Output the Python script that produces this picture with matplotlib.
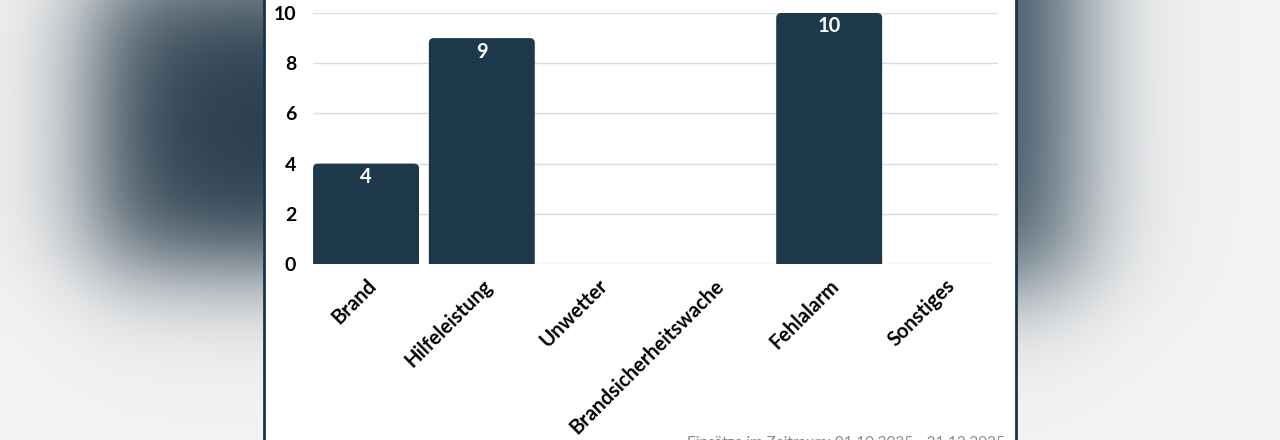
import numpy as np
import matplotlib
matplotlib.use("Agg")
import matplotlib.pyplot as plt
import matplotlib.patches as mpatches
from matplotlib.path import Path
from matplotlib.transforms import ScaledTranslation

plt.rcParams['font.family'] = ['Lato', 'DejaVu Sans']

categories = ["Brand", "Hilfeleistung", "Unwetter", "Brandsicherheitswache", "Fehlalarm", "Sonstiges"]
counts = [4, 9, 0, 0, 10, 0]
yticks = [0, 2, 4, 6, 8, 10]
footer = "Einsätze im Zeitraum: 01.10.2025 - 31.12.2025"

bar_color = "#1e384b"
W, H = 1280, 440

fig = plt.figure(figsize=(W / 100, H / 100), dpi=100)


def sig(v):
    return 1.0 / (1.0 + np.exp(-v))


# blurred backdrop
bg = fig.add_axes([0, 0, 1, 1])
bg.set_axis_off()
xx, yy = np.meshgrid(np.arange(W), np.arange(H))
base = np.array([243, 243, 243], dtype=float)
dark_l = np.array([40, 60, 76], dtype=float)
dark_r = np.array([58, 80, 96], dtype=float)
m_left = sig((xx - 95) / 32) * sig((265 - yy) / 30) * sig((yy + 30) / 35) * (xx < 640)
m_right = sig((1075 - xx) / 32) * sig((285 - yy) / 30) * (xx > 640)
img = base[None, None, :] * np.ones((H, W, 1))
img = img * (1 - m_left[..., None]) + dark_l * m_left[..., None]
img = img * (1 - m_right[..., None]) + dark_r * m_right[..., None]
bg.imshow(img.astype(np.uint8), extent=(0, W, H, 0), aspect="auto", interpolation="bilinear")
bg.set_xlim(0, W)
bg.set_ylim(H, 0)
bg.add_patch(mpatches.Rectangle((264, 0), 752, H, facecolor="white", edgecolor="none"))
bg.plot([264, 264], [0, H], color="#1c3444", lw=2)
bg.plot([1016, 1016], [0, H], color="#1c3444", lw=2)

ax = fig.add_axes([313 / W, 1 - 264 / H, (998 - 313) / W, (264 - 13) / H])
ax.patch.set_alpha(0)
x = np.arange(len(categories))
bw = 0.915
bars = ax.bar(x, counts, width=bw, color="none", edgecolor="none")

ax.set_xlim(-0.458, len(categories) - 1 + 0.458)
ax.set_ylim(0, 10)

# rounded top corners
px_x = (998 - 313) / (ax.get_xlim()[1] - ax.get_xlim()[0])
px_y = (264 - 13) / 10
r = 5
rx, ry = r / px_x, r / px_y
for b in bars:
    h = b.get_height()
    if h <= 0:
        continue
    x0 = b.get_x()
    x1 = x0 + b.get_width()
    verts = [(x0, 0), (x0, h - ry), (x0, h), (x0 + rx, h), (x1 - rx, h), (x1, h), (x1, h - ry), (x1, 0), (x0, 0)]
    codes = [Path.MOVETO, Path.LINETO, Path.CURVE3, Path.CURVE3, Path.LINETO,
             Path.CURVE3, Path.CURVE3, Path.LINETO, Path.CLOSEPOLY]
    ax.add_patch(mpatches.PathPatch(Path(verts, codes), facecolor=bar_color, edgecolor="none", clip_on=False, zorder=3))

for xi, v in zip(x, counts):
    if v > 0:
        ax.annotate(str(v), (xi, v), xytext=(0, -2.5), textcoords="offset points",
                    ha="center", va="top", color="white", fontsize=14.5, fontweight="bold", zorder=4)

ax.set_yticks(yticks)
ax.grid(axis="y", color="#dcdcdc", lw=1, zorder=0)
for s in ax.spines.values():
    s.set_visible(False)
ax.tick_params(axis="both", length=0)
ax.tick_params(axis="y", pad=12, labelsize=14)
ax.set_xticks(x)
ax.set_xticklabels(categories, rotation=45, ha="right", va="center", rotation_mode="anchor",
                   fontsize=14.5, fontweight="bold")
for lab in ax.get_yticklabels():
    lab.set_fontweight("bold")
offset = ScaledTranslation(7 / 100, -14 / 100, fig.dpi_scale_trans)
for lab in ax.get_xticklabels():
    lab.set_transform(lab.get_transform() + offset)

fig.text(1005 / W, 1 - 436 / H, footer, ha="right", va="top", fontsize=11, color="#8a8a8a")

fig.savefig("out.png", dpi=100)
